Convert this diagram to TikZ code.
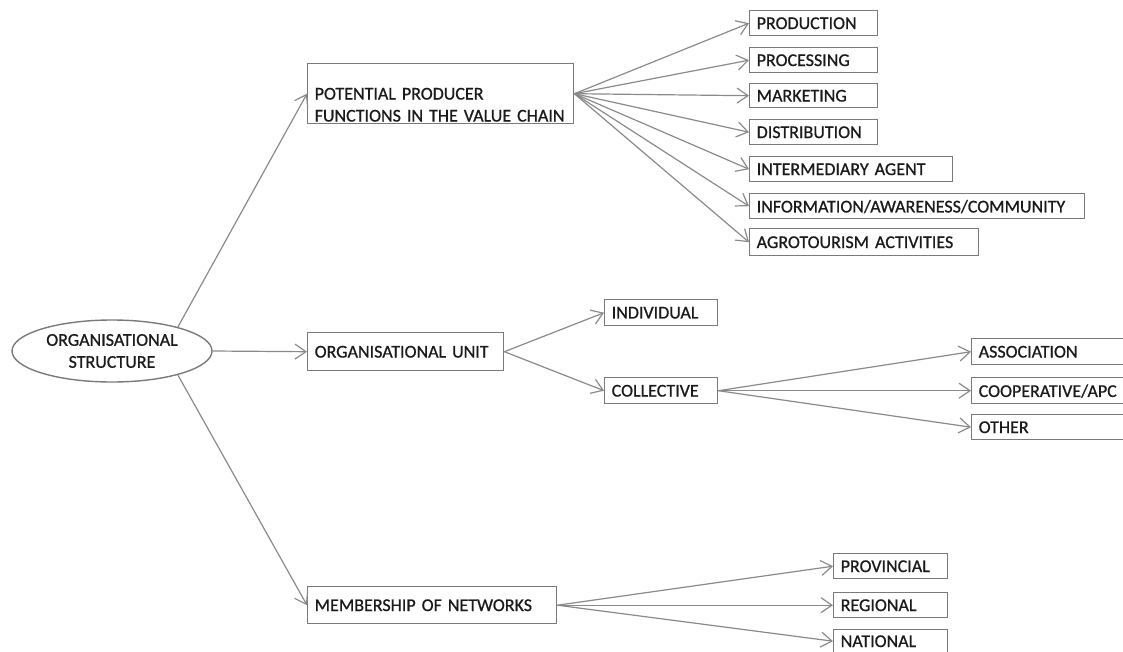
\documentclass[tikz,border=0pt]{standalone}
\usepackage{fontspec}
\setmainfont[WordSpace=0.75,FakeBold=0.8]{Carlito}
\usetikzlibrary{arrows.meta,shapes.geometric}
\definecolor{edgegray}{HTML}{8A8A8A}
\definecolor{boxgray}{HTML}{7A7A7A}
\definecolor{txtgray}{HTML}{1A1A1A}
\tikzset{
  every node/.style={font=\fontsize{18}{22}\selectfont, text=txtgray},
  boxnode/.style={draw=boxgray, line width=1.4pt, anchor=north west, align=left,
    inner xsep=7pt, inner ysep=0pt, text depth=0pt},
  ellnode/.style={draw=boxgray, line width=1.4pt, ellipse, align=center,
    minimum width=200pt, minimum height=62pt, inner sep=0pt},
  arr/.style={draw=edgegray, line width=1.2pt, -{Straight Barb[length=11pt,width=15pt,line width=1.2pt]}},
}
\newcommand{\bx}[6]{\node[boxnode, text width=#4pt-14pt, minimum height=#5pt] (#1) at (#2,#3) {#6};}
\begin{document}
\begin{tikzpicture}[x=1pt,y=-1pt]
\useasboundingbox (0,0) rectangle (1123,651);
\node[ellnode] (ell) at (112,351) {ORGANISATIONAL\\STRUCTURE};
\bx{pot}{307}{63}{266}{60}{POTENTIAL PRODUCER\\FUNCTIONS IN THE VALUE CHAIN}
\bx{unit}{307}{332}{196}{38}{ORGANISATIONAL UNIT}
\bx{memb}{307}{586}{249}{37}{MEMBERSHIP OF NETWORKS}
\bx{prod}{749}{10}{128}{25}{PRODUCTION}
\bx{proc}{749}{47}{128}{25}{PROCESSING}
\bx{mark}{749}{83}{128}{24}{MARKETING}
\bx{dist}{749}{119}{128}{25}{DISTRIBUTION}
\bx{inter}{749}{156}{203}{25}{INTERMEDIARY AGENT}
\bx{info}{749}{193}{335}{25}{INFORMATION/AWARENESS/COMMUNITY}
\bx{agro}{749}{228}{229}{27}{AGROTOURISM ACTIVITIES}
\bx{indiv}{604}{299}{113}{26}{INDIVIDUAL}
\bx{coll}{604}{377}{113}{26}{COLLECTIVE}
\bx{assoc}{971}{338}{170}{26}{ASSOCIATION}
\bx{coop}{971}{377}{170}{26}{COOPERATIVE/APC}
\bx{other}{971}{414}{170}{25}{OTHER}
\bx{prov}{833}{553}{114}{25}{PROVINCIAL}
\bx{reg}{833}{592}{114}{25}{REGIONAL}
\bx{nat}{833}{629}{114}{23}{NATIONAL}
\draw[arr] (ell.20) -- (pot.west);
\draw[arr] (ell.east) -- (unit.west);
\draw[arr] (ell.-20) -- (memb.west);
\foreach \t in {prod,proc,mark,dist,inter,info,agro}
  \draw[arr] (pot.east) -- (\t.west);
\foreach \t in {indiv,coll}
  \draw[arr] (unit.east) -- (\t.west);
\foreach \t in {assoc,coop,other}
  \draw[arr] (coll.east) -- (\t.west);
\foreach \t in {prov,reg,nat}
  \draw[arr] (memb.east) -- (\t.west);
\end{tikzpicture}
\end{document}
